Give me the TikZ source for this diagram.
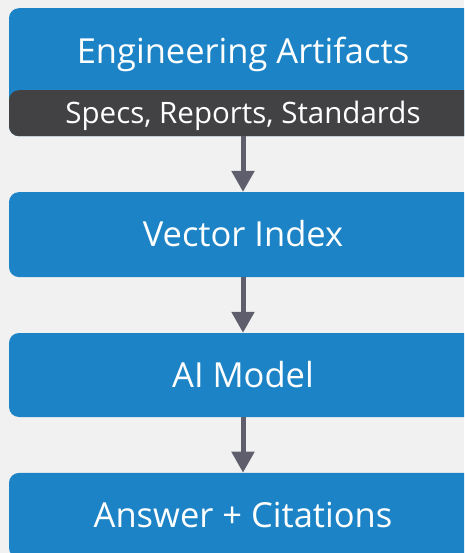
\documentclass[tikz,border=0pt]{standalone}
\usepackage{fontspec}
\setmainfont{Open Sans}
\usepackage{xcolor}
\usetikzlibrary{positioning,arrows.meta}

\definecolor{boxblue}{HTML}{1C84C6}
\definecolor{banddark}{HTML}{424143}
\definecolor{arrowgray}{HTML}{5F5E6C}
\definecolor{paper}{HTML}{F1F1F1}

\begin{document}
\begin{tikzpicture}[x=1pt, y=-1pt,
    bigtext/.style={text=white, font=\fontsize{34.5}{40}\selectfont, text height=24.6pt, text depth=0pt, inner sep=0pt},
    smalltext/.style={text=white, font=\fontsize{29.5}{34}\selectfont, text height=21pt, text depth=0pt, inner sep=0pt},
    stagebox/.style={fill=boxblue, rounded corners=10pt, minimum width=468pt, bigtext},
    flow/.style={draw=arrowgray, line width=5pt, -{Triangle[width=22pt,length=21pt]}},
    node distance=55.5pt]
        % Background
        \fill[paper] (0,0) rectangle (464,553);
        \clip (0,0) rectangle (464,553);

        % Top box with dark band
        \node[stagebox, minimum height=128pt, anchor=north,
          path picture={\fill[banddark] ([yshift=46pt]path picture bounding box.south west) rectangle (path picture bounding box.south east);}]
          (artifacts) at (243,8) {};
        \node[bigtext] (title) at (243,51) {Engineering Artifacts};
        \node[smalltext] (sources) at (243,113.5) {Specs, Reports, Standards};

        % Stages
        \node[stagebox, minimum height=85pt, below=of artifacts] (index) {Vector Index};
        \node[stagebox, minimum height=84pt, below=of index] (model) {AI Model};
        \node[stagebox, minimum height=85pt, below=of model] (answer) {Answer + Citations};

        % Arrows
        \draw[flow] (sources |- artifacts.south) -- (index.north);
        \draw[flow] (index.south) -- (model.north);
        \draw[flow] (model.south) -- (answer.north);
      \end{tikzpicture}
\end{document}
